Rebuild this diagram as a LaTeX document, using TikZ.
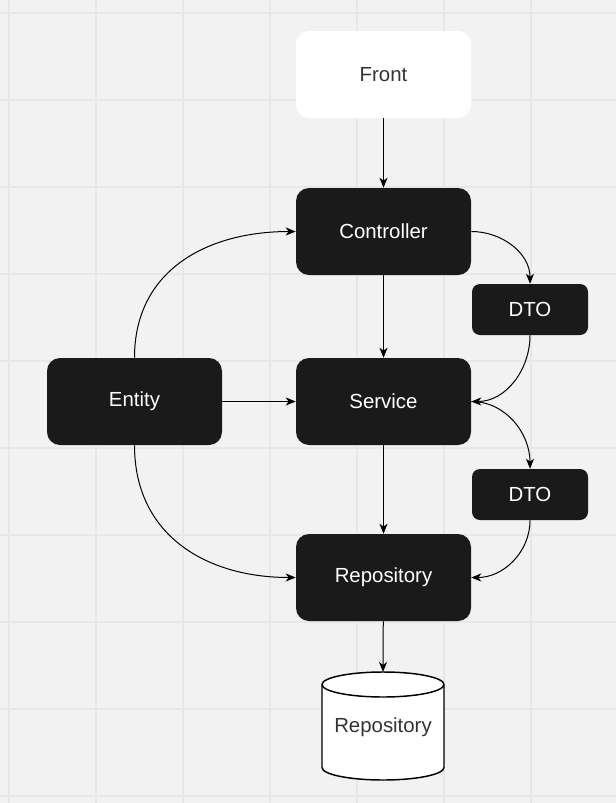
\documentclass[tikz,border=0pt]{standalone}
\usepackage{fontspec}
\setmainfont{Liberation Sans}
\usetikzlibrary{arrows.meta}
\definecolor{canvas}{HTML}{F2F2F2}
\definecolor{gridgray}{HTML}{E7E7E7}
\definecolor{boxblack}{HTML}{1A1A1A}
\definecolor{textgray}{HTML}{333333}
\tikzset{
    layer/.style={draw=none, fill=boxblack, text=white, rounded corners=9.75pt,
        minimum width=131.25pt, minimum height=65.25pt,
        font=\fontsize{15.3}{18}\selectfont},
    dtobox/.style={layer, rounded corners=6pt, minimum width=87pt, minimum height=38.25pt},
    flow/.style={draw=black, line width=0.75pt, -{Stealth[length=7.5pt, width=6pt, inset=2.2pt]}},
    gridline/.style={draw=gridgray, line width=1pt},
    dbshape/.style={draw=black, fill=white, line width=1.1pt},
    rim/.style={x radius=45.75pt, y radius=9.375pt}
}
\begin{document}
\begin{tikzpicture}[x=0.75pt, y=-0.75pt]
    \fill[canvas] (0, 0) rectangle (616, 803);
    \useasboundingbox (0, 0) rectangle (616, 803);
    \foreach \i in {0, ..., 7} {
        \draw[gridline] (9 + 87 * \i, 0) -- (9 + 87 * \i, 803);
    }
    \foreach \i in {0, ..., 9} {
        \draw[gridline] (0, 13 + 87 * \i) -- (616, 13 + 87 * \i);
    }

    \node[layer, fill=white, text=textgray] (front) at (383.5, 74.5) {Front};
    \node[layer] (controller) at (383.5, 231.5) {Controller};
    \node[dtobox] (dtoA) at (530, 309.5) {DTO};
    \node[layer] (service) at (383.5, 401.5) {Service};
    \node[layer] (entity) at (134.5, 401.5) {Entity};
    \node[dtobox] (dtoB) at (530, 494.5) {DTO};
    \node[layer] (repository) at (383.5, 577.5) {Repository};

    \draw[dbshape] (322, 684.5) -- (322, 767.5) arc[start angle=180, end angle=360, rim]
        -- (444, 684.5) arc[start angle=0, end angle=180, rim] -- cycle;
    \draw[dbshape, fill=none] (322, 684.5) arc[start angle=180, end angle=360, rim];
    \coordinate (dbtop) at (383, 672);
    \node[text=textgray, font=\fontsize{15.3}{18}\selectfont] (db) at (383, 727) {Repository};

    \draw[flow] (front) -- (controller);
    \draw[flow] (controller) -- (service);
    \draw[flow] (service) -- (repository);
    \draw[flow] (repository) -- (dbtop);
    \draw[flow] (entity) -- (service);
    \draw[flow] (entity.north) to[out=90, in=180, looseness=1.1] (controller.west);
    \draw[flow] (entity.south) to[out=-90, in=180, looseness=1.1] (repository.west);
    \draw[flow] (controller.east) to[out=0, in=90] (dtoA.north);
    \draw[flow] (dtoA.south) to[out=-90, in=0] (service.east);
    \draw[flow] (service.east) to[out=0, in=90] (dtoB.north);
    \draw[flow] (dtoB.south) to[out=-90, in=0] (repository.east);
\end{tikzpicture}
\end{document}
